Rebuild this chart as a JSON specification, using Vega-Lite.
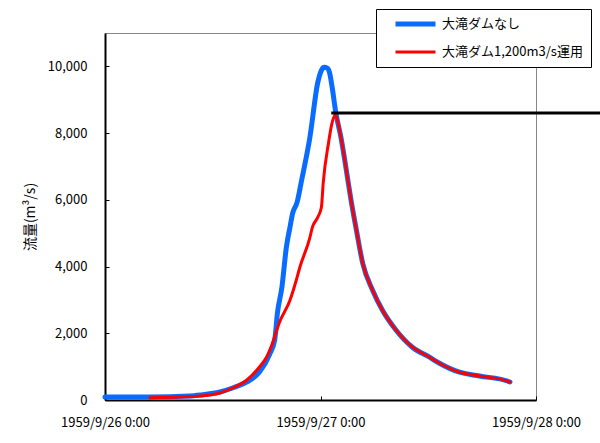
{
  "$schema": "https://vega.github.io/schema/vega-lite/v6.json",
  "width": 431,
  "height": 367,
  "autosize": {"type": "none"},
  "padding": {"left": 105, "top": 33, "right": 64, "bottom": 43},
  "background": "white",
  "config": {
    "view": {"stroke": "#888888", "strokeWidth": 1},
    "font": "Noto Sans CJK JP"
  },
  "datasets": {
    "nodam": [
      {"series": "大滝ダムなし", "time": "1959-09-26T00:00:00", "flow": 90},
      {"series": "大滝ダムなし", "time": "1959-09-26T05:00:00", "flow": 90},
      {"series": "大滝ダムなし", "time": "1959-09-26T09:24:00", "flow": 120},
      {"series": "大滝ダムなし", "time": "1959-09-26T10:36:00", "flow": 150},
      {"series": "大滝ダムなし", "time": "1959-09-26T12:48:00", "flow": 240},
      {"series": "大滝ダムなし", "time": "1959-09-26T14:12:00", "flow": 360},
      {"series": "大滝ダムなし", "time": "1959-09-26T15:48:00", "flow": 540},
      {"series": "大滝ダムなし", "time": "1959-09-26T17:12:00", "flow": 840},
      {"series": "大滝ダムなし", "time": "1959-09-26T18:18:00", "flow": 1350},
      {"series": "大滝ダムなし", "time": "1959-09-26T18:54:00", "flow": 1800},
      {"series": "大滝ダムなし", "time": "1959-09-26T19:12:00", "flow": 2600},
      {"series": "大滝ダムなし", "time": "1959-09-26T19:42:00", "flow": 3380},
      {"series": "大滝ダムなし", "time": "1959-09-26T20:12:00", "flow": 4580},
      {"series": "大滝ダムなし", "time": "1959-09-26T20:36:00", "flow": 5180},
      {"series": "大滝ダムなし", "time": "1959-09-26T20:54:00", "flow": 5600},
      {"series": "大滝ダムなし", "time": "1959-09-26T21:24:00", "flow": 5930},
      {"series": "大滝ダムなし", "time": "1959-09-26T21:54:00", "flow": 6590},
      {"series": "大滝ダムなし", "time": "1959-09-26T22:48:00", "flow": 7840},
      {"series": "大滝ダムなし", "time": "1959-09-26T23:42:00", "flow": 9520},
      {"series": "大滝ダムなし", "time": "1959-09-27T00:06:00", "flow": 9880},
      {"series": "大滝ダムなし", "time": "1959-09-27T00:24:00", "flow": 9970},
      {"series": "大滝ダムなし", "time": "1959-09-27T00:48:00", "flow": 9940},
      {"series": "大滝ダムなし", "time": "1959-09-27T01:00:00", "flow": 9820},
      {"series": "大滝ダムなし", "time": "1959-09-27T01:18:00", "flow": 9370},
      {"series": "大滝ダムなし", "time": "1959-09-27T01:42:00", "flow": 8620},
      {"series": "大滝ダムなし", "time": "1959-09-27T02:18:00", "flow": 7840},
      {"series": "大滝ダムなし", "time": "1959-09-27T03:06:00", "flow": 6500},
      {"series": "大滝ダムなし", "time": "1959-09-27T03:24:00", "flow": 5990},
      {"series": "大滝ダムなし", "time": "1959-09-27T04:00:00", "flow": 5090},
      {"series": "大滝ダムなし", "time": "1959-09-27T04:42:00", "flow": 4100},
      {"series": "大滝ダムなし", "time": "1959-09-27T05:48:00", "flow": 3290},
      {"series": "大滝ダムなし", "time": "1959-09-27T06:54:00", "flow": 2690},
      {"series": "大滝ダムなし", "time": "1959-09-27T08:24:00", "flow": 2100},
      {"series": "大滝ダムなし", "time": "1959-09-27T10:12:00", "flow": 1590},
      {"series": "大滝ダムなし", "time": "1959-09-27T12:06:00", "flow": 1290},
      {"series": "大滝ダムなし", "time": "1959-09-27T13:12:00", "flow": 1110},
      {"series": "大滝ダムなし", "time": "1959-09-27T15:24:00", "flow": 840},
      {"series": "大滝ダムなし", "time": "1959-09-27T17:42:00", "flow": 720},
      {"series": "大滝ダムなし", "time": "1959-09-27T20:48:00", "flow": 570},
      {"series": "大滝ダムなし", "time": "1959-09-27T21:06:00", "flow": 540}
    ],
    "dam": [
      {"series": "大滝ダム1,200m3/s運用", "time": "1959-09-26T05:00:00", "flow": 70},
      {"series": "大滝ダム1,200m3/s運用", "time": "1959-09-26T08:18:00", "flow": 90},
      {"series": "大滝ダム1,200m3/s運用", "time": "1959-09-26T10:36:00", "flow": 120},
      {"series": "大滝ダム1,200m3/s運用", "time": "1959-09-26T12:48:00", "flow": 210},
      {"series": "大滝ダム1,200m3/s運用", "time": "1959-09-26T14:12:00", "flow": 360},
      {"series": "大滝ダム1,200m3/s運用", "time": "1959-09-26T15:48:00", "flow": 600},
      {"series": "大滝ダム1,200m3/s運用", "time": "1959-09-26T17:12:00", "flow": 990},
      {"series": "大滝ダム1,200m3/s運用", "time": "1959-09-26T18:00:00", "flow": 1290},
      {"series": "大滝ダム1,200m3/s運用", "time": "1959-09-26T18:42:00", "flow": 1740},
      {"series": "大滝ダム1,200m3/s運用", "time": "1959-09-26T19:24:00", "flow": 2310},
      {"series": "大滝ダム1,200m3/s運用", "time": "1959-09-26T20:36:00", "flow": 2990},
      {"series": "大滝ダム1,200m3/s運用", "time": "1959-09-26T21:18:00", "flow": 3590},
      {"series": "大滝ダム1,200m3/s運用", "time": "1959-09-26T21:42:00", "flow": 3980},
      {"series": "大滝ダム1,200m3/s運用", "time": "1959-09-26T22:48:00", "flow": 4850},
      {"series": "大滝ダム1,200m3/s運用", "time": "1959-09-26T23:06:00", "flow": 5180},
      {"series": "大滝ダム1,200m3/s運用", "time": "1959-09-26T23:42:00", "flow": 5480},
      {"series": "大滝ダム1,200m3/s運用", "time": "1959-09-27T00:06:00", "flow": 5780},
      {"series": "大滝ダム1,200m3/s運用", "time": "1959-09-27T00:18:00", "flow": 6500},
      {"series": "大滝ダム1,200m3/s運用", "time": "1959-09-27T00:54:00", "flow": 7720},
      {"series": "大滝ダム1,200m3/s運用", "time": "1959-09-27T01:18:00", "flow": 8320},
      {"series": "大滝ダム1,200m3/s運用", "time": "1959-09-27T01:36:00", "flow": 8530},
      {"series": "大滝ダム1,200m3/s運用", "time": "1959-09-27T01:48:00", "flow": 8470},
      {"series": "大滝ダム1,200m3/s運用", "time": "1959-09-27T02:18:00", "flow": 7840},
      {"series": "大滝ダム1,200m3/s運用", "time": "1959-09-27T03:06:00", "flow": 6500},
      {"series": "大滝ダム1,200m3/s運用", "time": "1959-09-27T03:24:00", "flow": 5990},
      {"series": "大滝ダム1,200m3/s運用", "time": "1959-09-27T04:00:00", "flow": 5090},
      {"series": "大滝ダム1,200m3/s運用", "time": "1959-09-27T04:42:00", "flow": 4100},
      {"series": "大滝ダム1,200m3/s運用", "time": "1959-09-27T05:48:00", "flow": 3290},
      {"series": "大滝ダム1,200m3/s運用", "time": "1959-09-27T06:54:00", "flow": 2690},
      {"series": "大滝ダム1,200m3/s運用", "time": "1959-09-27T08:24:00", "flow": 2100},
      {"series": "大滝ダム1,200m3/s運用", "time": "1959-09-27T10:12:00", "flow": 1590},
      {"series": "大滝ダム1,200m3/s運用", "time": "1959-09-27T12:06:00", "flow": 1290},
      {"series": "大滝ダム1,200m3/s運用", "time": "1959-09-27T13:12:00", "flow": 1110},
      {"series": "大滝ダム1,200m3/s運用", "time": "1959-09-27T15:24:00", "flow": 840},
      {"series": "大滝ダム1,200m3/s運用", "time": "1959-09-27T17:42:00", "flow": 720},
      {"series": "大滝ダム1,200m3/s運用", "time": "1959-09-27T20:48:00", "flow": 570},
      {"series": "大滝ダム1,200m3/s運用", "time": "1959-09-27T21:06:00", "flow": 540}
    ],
    "limit": [
      {"start": "1959-09-27T01:12:00", "end": "1959-09-28T07:20:00", "level": 8600}
    ]
  },
  "encoding": {
    "x": {
      "field": "time",
      "type": "temporal",
      "scale": {"domain": [{"year": 1959, "month": 9, "date": 26}, {"year": 1959, "month": 9, "date": 28}]},
      "axis": {
        "title": null,
        "values": [{"year": 1959, "month": 9, "date": 26}, {"year": 1959, "month": 9, "date": 27}, {"year": 1959, "month": 9, "date": 28}],
        "labelExpr": "timeFormat(datum.value, '%Y/%-m/%-d %-H:%M')",
        "labelFlush": false,
        "labelOverlap": false,
        "grid": false,
        "domainColor": "black",
        "domainWidth": 2,
        "tickColor": "black",
        "tickSize": -4,
        "labelPadding": 20,
        "labelFontSize": 13,
        "labelColor": "black",
        "labelFont": "Noto Sans CJK JP"
      }
    },
    "y": {
      "field": "flow",
      "type": "quantitative",
      "scale": {"domain": [0, 11000], "nice": false},
      "axis": {
        "title": "流量(m³/s)",
        "values": [0, 2000, 4000, 6000, 8000, 10000],
        "format": ",d",
        "grid": false,
        "domainColor": "black",
        "domainWidth": 2,
        "tickColor": "black",
        "tickSize": -4,
        "labelPadding": 22,
        "labelFontSize": 13,
        "labelColor": "black",
        "labelFont": "Noto Sans CJK JP",
        "titleFontSize": 14,
        "titleFontWeight": "normal",
        "titleColor": "black",
        "titleFont": "Noto Sans CJK JP",
        "titlePadding": 10
      }
    }
  },
  "layer": [
    {
      "data": {"name": "nodam"},
      "mark": {"type": "line", "strokeCap": "round", "strokeJoin": "round", "interpolate": "monotone"},
      "encoding": {
        "color": {
          "field": "series",
          "type": "nominal",
          "scale": {"domain": ["大滝ダムなし", "大滝ダム1,200m3/s運用"], "range": ["#0a6cff", "#ff0000"]},
          "legend": {
            "title": null,
            "orient": "none",
            "legendX": 271,
            "legendY": -24,
            "direction": "vertical",
            "fillColor": "white",
            "strokeColor": "black",
            "padding": 8,
            "symbolType": "stroke",
            "symbolSize": 1600,
            "symbolOffset": 9,
            "clipHeight": 14,
            "labelFontSize": 13,
            "labelFont": "Noto Sans CJK JP",
            "labelColor": "black",
            "labelLimit": 300,
            "rowPadding": 14
          }
        },
        "strokeWidth": {
          "field": "series",
          "type": "nominal",
          "scale": {"domain": ["大滝ダムなし", "大滝ダム1,200m3/s運用"], "range": [5, 3]},
          "legend": {
            "title": null,
            "orient": "none",
            "legendX": 271,
            "legendY": -24,
            "direction": "vertical",
            "fillColor": "white",
            "strokeColor": "black",
            "padding": 8,
            "symbolType": "stroke",
            "symbolSize": 1600,
            "symbolOffset": 9,
            "clipHeight": 14,
            "labelFontSize": 13,
            "labelFont": "Noto Sans CJK JP",
            "labelColor": "black",
            "labelLimit": 300,
            "rowPadding": 14
          }
        }
      }
    },
    {
      "data": {"name": "dam"},
      "mark": {"type": "line", "strokeCap": "round", "strokeJoin": "round", "interpolate": "monotone"},
      "encoding": {
        "color": {"field": "series", "type": "nominal"},
        "strokeWidth": {"field": "series", "type": "nominal"}
      }
    },
    {
      "data": {"name": "limit"},
      "mark": {"type": "rule", "color": "black", "strokeWidth": 3, "clip": false},
      "encoding": {
        "x": {"field": "start", "type": "temporal"},
        "x2": {"field": "end"},
        "y": {"field": "level", "type": "quantitative"}
      }
    }
  ]
}
